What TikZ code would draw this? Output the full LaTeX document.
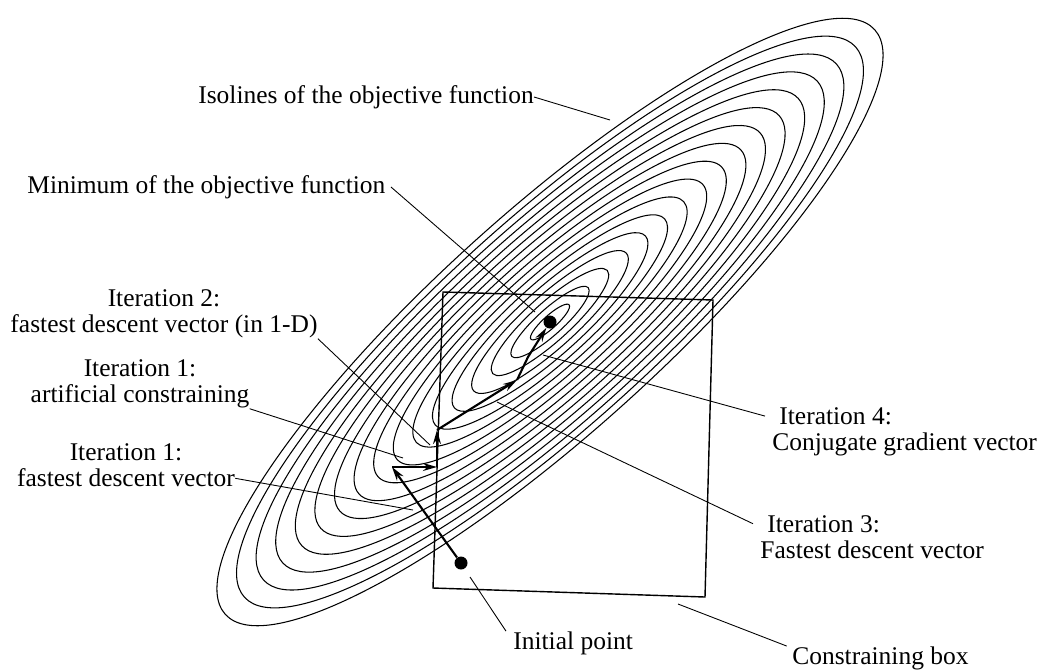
\documentclass[tikz,border=0pt]{standalone}
\usepackage{fontspec}
\setmainfont{Liberation Serif}
\usetikzlibrary{arrows.meta, positioning}
\tikzset{
    isoline/.style={line width=0.6pt},
    leader/.style={line width=0.5pt},
    boxline/.style={line width=0.8pt},
    vec/.style={line width=1.2pt, -{Stealth[length=8pt, width=4.5pt]}},
    dot/.style={circle, fill=black, inner sep=0pt, minimum size=2.6mm},
    lbl/.style={inner sep=0pt, font=\fontsize{14.5}{15}\selectfont},
}

\begin{document}
\begin{tikzpicture}[x=0.02cm, y=-0.02cm]
    \useasboundingbox (0,0) rectangle (1040,670);
    % isolines round the minimum
    \coordinate (xmin) at (550,322);
    \foreach \k in {1,...,17}
        \draw[isoline, rotate around={42:(xmin)}] (xmin) ellipse [x radius=25.7*\k, y radius=6.5*\k];

    % constraining box
    \coordinate (b1) at (443,292);
    \coordinate (b2) at (713,300);
    \coordinate (b3) at (705,597);
    \coordinate (b4) at (433,588);
    \draw[boxline] (b1) -- (b2) -- (b3) -- (b4) -- cycle;

    % search path
    \node[dot] (start) at (461,563) {};
    \node[dot] (opt) at (xmin) {};
    \coordinate (p1) at (392,467);
    \coordinate (p2) at (437,467);
    \coordinate (p3) at (437,430);
    \coordinate (p4) at (517,380);
    \coordinate (p5) at (528,357);
    \draw[vec] (start) -- (p1);
    \draw[vec] (p1) -- (p2);
    \draw[vec] (p2) -- (p3);
    \draw[vec] (p3) -- (p4);
    \draw[vec] (p4) -- (p5) -- (opt);

    % labels
    \node[lbl, anchor=west] (iso) at (198,97) {Isolines of the objective function};
    \node[lbl, anchor=west] (minl) at (27,187) {Minimum of the objective function};
    \node[lbl, align=center] (it2) at (164,314) {Iteration 2:\\fastest descent vector (in 1-D)};
    \node[lbl, align=center] (it1a) at (140,384) {Iteration 1:\\artificial constraining};
    \node[lbl, align=center] (it1f) at (126,465) {Iteration 1:\\fastest descent vector};
    \node[lbl, align=left, anchor=west] (it4) at (772,432) {\hspace{4pt}Iteration 4:\\Conjugate gradient vector};
    \node[lbl, align=left, anchor=west] (it3) at (760,537) {\hspace{4pt}Iteration 3:\\Fastest descent vector};
    \node[lbl, anchor=west] (initl) at (513,643) {Initial point};
    \node[lbl, anchor=west] (boxl) at (792,658) {Constraining box};

    % leaders
    \coordinate (isoend) at (610,120);
    \coordinate (minend) at (535,312);
    \coordinate (it2end) at (430,445);
    \coordinate (it1aend) at (403,458);
    \coordinate (it1fend) at (413,510);
    \coordinate (it3end) at (497,402);
    \coordinate (it4end) at (543,355);
    \coordinate (initend) at (470,577);
    \coordinate (boxend) at (678,604);
    \draw[leader] (iso.east) -- (isoend);
    \draw[leader] ([xshift=3pt]minl.east) -- (minend);
    \draw[leader] (it2.south east) -- (it2end);
    \draw[leader] (it1a.south east) -- (it1aend);
    \draw[leader] ([yshift=5pt]it1f.south east) -- (it1fend);
    \draw[leader] ([yshift=-5pt, xshift=-4pt]it3.north west) -- (it3end);
    \draw[leader] ([yshift=-5pt, xshift=-4pt]it4.north west) -- (it4end);
    \draw[leader] ([xshift=-4pt]initl.north west) -- (initend);
    \draw[leader] ([xshift=-3pt]boxl.north west) -- (boxend);
\end{tikzpicture}
\end{document}
